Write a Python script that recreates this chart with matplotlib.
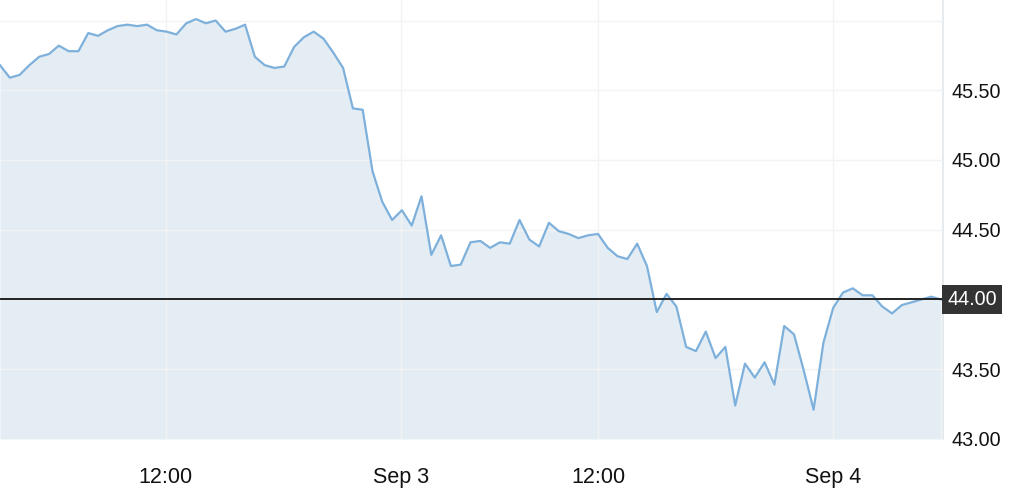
import numpy as np
import matplotlib.pyplot as plt

# price series (one point per interval)
prices = [45.68, 45.59, 45.61, 45.68, 45.74, 45.76, 45.82, 45.78, 45.78, 45.91,
          45.89, 45.93, 45.96, 45.97, 45.96, 45.97, 45.93, 45.92, 45.90, 45.98,
          46.01, 45.98, 46.00, 45.92, 45.94, 45.97, 45.74, 45.68, 45.66, 45.67,
          45.81, 45.88, 45.92, 45.87, 45.77, 45.66, 45.37, 45.36, 44.92, 44.70,
          44.57, 44.64, 44.53, 44.74, 44.32, 44.46, 44.24, 44.25, 44.41, 44.42,
          44.37, 44.41, 44.40, 44.57, 44.43, 44.38, 44.55, 44.49, 44.47, 44.44,
          44.46, 44.47, 44.37, 44.31, 44.29, 44.40, 44.24, 43.91, 44.04, 43.95,
          43.66, 43.63, 43.77, 43.58, 43.66, 43.24, 43.54, 43.44, 43.55, 43.39,
          43.81, 43.75, 43.49, 43.21, 43.69, 43.94, 44.05, 44.08, 44.03, 44.03,
          43.95, 43.90, 43.96, 43.98, 44.00, 44.02, 44.00]
x_tick_pos = [16.9, 40.9, 61.0, 85.0]
x_tick_labels = ['12:00', 'Sep 3', '12:00', 'Sep 4']
y_ticks = [43.0, 43.5, 44.0, 44.5, 45.0, 45.5, 46.0]
y_tick_labels = ['43.00', '43.50', '44.00', '44.50', '45.00', '45.50', '']
last_price = 44.00

plt.rcParams['font.family'] = ['Liberation Sans', 'DejaVu Sans']

x = np.arange(len(prices))
fig = plt.figure(figsize=(10.26, 5.04), dpi=100)
ax = fig.add_axes([0, 0.129, 0.9191, 0.871])

ax.fill_between(x, prices, 43.0, color='#e4edf3', lw=0, zorder=1)
ax.plot(x, prices, color='#7eb0dc', lw=1.6, zorder=3)
ax.axhline(last_price, color='#222222', lw=1.4, zorder=4)

ax.set_xlim(0, 96.2)
ax.set_ylim(43.0, 46.147)

ax.set_xticks(x_tick_pos)
ax.set_xticklabels(x_tick_labels)
ax.set_yticks(y_ticks)
ax.set_yticklabels(y_tick_labels)
ax.yaxis.tick_right()
ax.tick_params(axis='both', length=0, colors='#111111')
ax.tick_params(axis='x', pad=20, labelsize=15.5)
ax.tick_params(axis='y', pad=6, labelsize=14.2)

ax.grid(True, color='#f1f3f5', lw=1, zorder=2)
ax.set_axisbelow(False)
for s in ['top', 'left', 'bottom']:
    ax.spines[s].set_visible(False)
ax.spines['right'].set_color('#e3e6ea')
ax.spines['right'].set_linewidth(1.2)

# price tag for the last value
ax.annotate('44.00', xy=(1.0, last_price), xycoords=ax.get_yaxis_transform(),
            xytext=(3, 0), textcoords='offset points',
            ha='left', va='center', fontsize=14.2, color='white', zorder=6,
            bbox=dict(boxstyle='square,pad=0.26', fc='#333333', ec='none'))
for lab in ax.get_yticklabels():
    if lab.get_text() == '44.00':
        lab.set_visible(False)

fig.savefig('out.png', dpi=100)
